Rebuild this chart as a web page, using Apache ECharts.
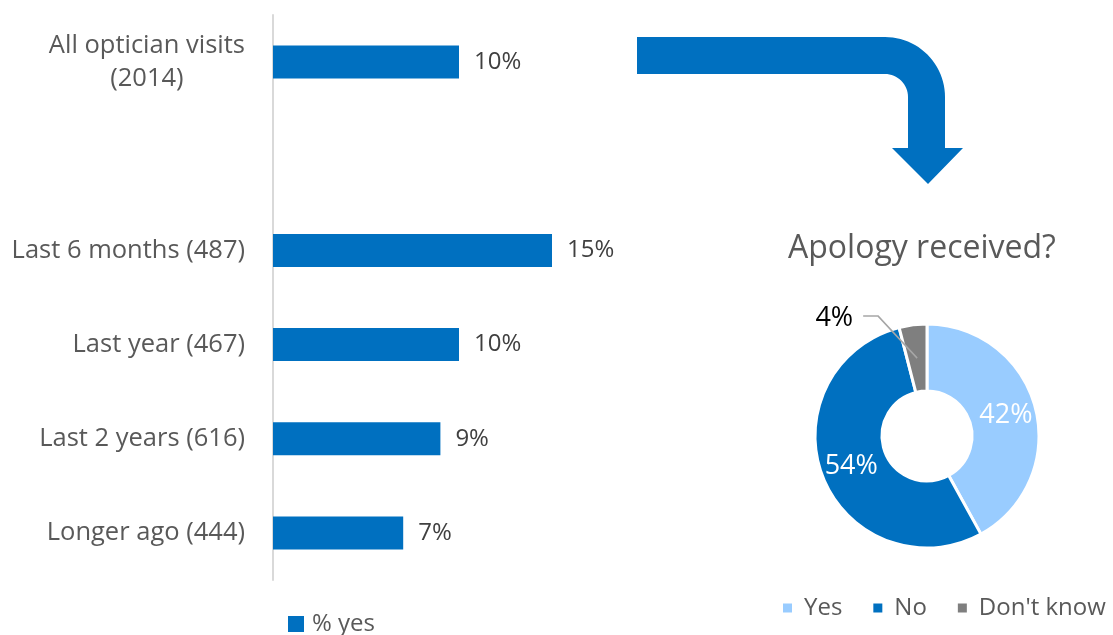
<!DOCTYPE html>
<html>
<head>
<meta charset="utf-8">
<script src="https://cdn.jsdelivr.net/npm/echarts@6/dist/echarts.min.js"></script>
<style>
  html, body { margin: 0; padding: 0; background: #fff; }
  #chart { width: 1113px; height: 635px; }
</style>
</head>
<body>
<div id="chart"></div>
<script>
// Share of visits with a problem, by time since the visit
const categories = ['All optician visits\n(2014)', '', 'Last 6 months (487)', 'Last year (467)', 'Last 2 years (616)', 'Longer ago (444)'];
const yesValues = [10, null, 15, 10, 9, 7];

// Apology received?
const apologyNames = ['Yes', 'No', "Don't know"];
const apologyValues = [42, 54, 4];
const apologyColors = ['#99CCFF', '#0070C0', '#7F7F7F'];

const FONT = 'Open Sans';
const BLUE = '#0070C0';
const GREY_TEXT = '#595959';

// Donut geometry
const PIE_CENTER = [927, 436];
const PIE_RADIUS = [45, 112];

// Outline of the bent arrow linking the two panels
function arcPoints(cx, cy, r, a0, a1, n) {
  const pts = [];
  for (let i = 0; i <= n; i++) {
    const a = a0 + (a1 - a0) * i / n;
    pts.push([cx + r * Math.cos(a), cy + r * Math.sin(a)]);
  }
  return pts;
}
const arrowPoints = [].concat(
  [[637, 37]],
  arcPoints(885, 97, 60, -Math.PI / 2, 0, 24),
  [[945, 148], [963, 148], [928, 184], [892, 148], [908, 148]],
  arcPoints(885, 97, 23, 0, -Math.PI / 2, 16),
  [[637, 74]]
);

// Leader line for the small "Don't know" slice: from the middle of the ring,
// up and to the left, then a short horizontal run to the label.
function smallSliceLeader(idx) {
  const total = apologyValues.reduce(function (a, b) { return a + b; }, 0);
  let before = 0;
  for (let i = 0; i < idx; i++) before += apologyValues[i];
  const midFrac = (before + apologyValues[idx] / 2) / total;
  const ang = Math.PI / 2 - midFrac * 2 * Math.PI;
  const midR = (PIE_RADIUS[0] + PIE_RADIUS[1]) / 2;
  const start = [PIE_CENTER[0] + midR * Math.cos(ang), PIE_CENTER[1] - midR * Math.sin(ang)];
  const elbow = [start[0] - 39, start[1] - 42];
  const end = [elbow[0] - 15, elbow[1]];
  return { points: [start, elbow, end], labelX: end[0] - 10, labelY: end[1] + 2 };
}
const leader = smallSliceLeader(2);

const chart = echarts.init(document.getElementById('chart'), null, { renderer: 'canvas' });

chart.setOption({
  animation: false,
  textStyle: { fontFamily: FONT },
  title: {
    text: 'Apology received?',
    left: 788,
    top: 233,
    padding: 0,
    textStyle: { fontFamily: FONT, fontSize: 32, fontWeight: 'normal', color: GREY_TEXT }
  },
  legend: [
    {
      data: ['% yes'],
      left: 288,
      top: 612,
      padding: 0,
      icon: 'rect',
      itemWidth: 16,
      itemHeight: 16,
      textStyle: { fontFamily: FONT, fontSize: 24, color: GREY_TEXT, padding: [0, 0, 0, 3] }
    },
    {
      data: apologyNames,
      left: 781,
      top: 596,
      padding: 0,
      icon: 'rect',
      itemWidth: 11,
      itemHeight: 11,
      itemGap: 29,
      textStyle: { fontFamily: FONT, fontSize: 24, color: GREY_TEXT, padding: [0, 0, 0, 6] }
    }
  ],
  grid: { left: 273, top: 15, bottom: 55, right: 282, containLabel: false },
  xAxis: {
    type: 'value',
    min: 0,
    max: 30,
    show: false
  },
  yAxis: {
    type: 'category',
    inverse: true,
    data: categories,
    axisLine: { show: true, lineStyle: { color: '#D9D9D9', width: 2 } },
    axisTick: { show: false },
    axisLabel: {
      margin: 28,
      fontFamily: FONT,
      fontSize: 25.5,
      color: GREY_TEXT,
      lineHeight: 33,
      formatter: function (v) {
        return v.split('\n').map(function (s) { return '{c|' + s + '}'; }).join('\n');
      },
      rich: { c: { align: 'center', fontFamily: FONT, fontSize: 25.5, color: GREY_TEXT, lineHeight: 33 } }
    }
  },
  series: [
    {
      name: '% yes',
      type: 'bar',
      data: yesValues,
      barWidth: 33,
      itemStyle: { color: BLUE },
      label: {
        show: true,
        position: 'right',
        distance: 15,
        fontFamily: FONT,
        fontSize: 24,
        color: '#404040',
        formatter: '{c}%'
      }
    },
    {
      name: 'Apology',
      type: 'pie',
      center: PIE_CENTER,
      radius: PIE_RADIUS,
      startAngle: 90,
      clockwise: true,
      avoidLabelOverlap: false,
      itemStyle: { borderColor: '#fff', borderWidth: 3 },
      label: {
        show: true,
        position: 'inside',
        fontFamily: FONT,
        fontSize: 27,
        color: '#fff',
        formatter: '{c}%'
      },
      labelLine: { show: false },
      labelLayout: function (params) {
        if (params.dataIndex === 2) {
          return { x: leader.labelX, y: leader.labelY, align: 'right', verticalAlign: 'middle' };
        }
        return {};
      },
      data: apologyNames.map(function (n, i) {
        const item = { name: n, value: apologyValues[i], itemStyle: { color: apologyColors[i] } };
        if (i === 2) {
          item.label = { position: 'outside', color: '#000', fontSize: 27 };
          item.labelLine = { show: false };
        }
        return item;
      })
    }
  ],
  graphic: [
    {
      type: 'polygon',
      shape: { points: arrowPoints },
      style: { fill: BLUE }
    },
    {
      type: 'polyline',
      z: 100,
      shape: { points: leader.points },
      style: { stroke: '#A6A6A6', lineWidth: 1.5, fill: null }
    }
  ]
});
</script>
</body>
</html>
